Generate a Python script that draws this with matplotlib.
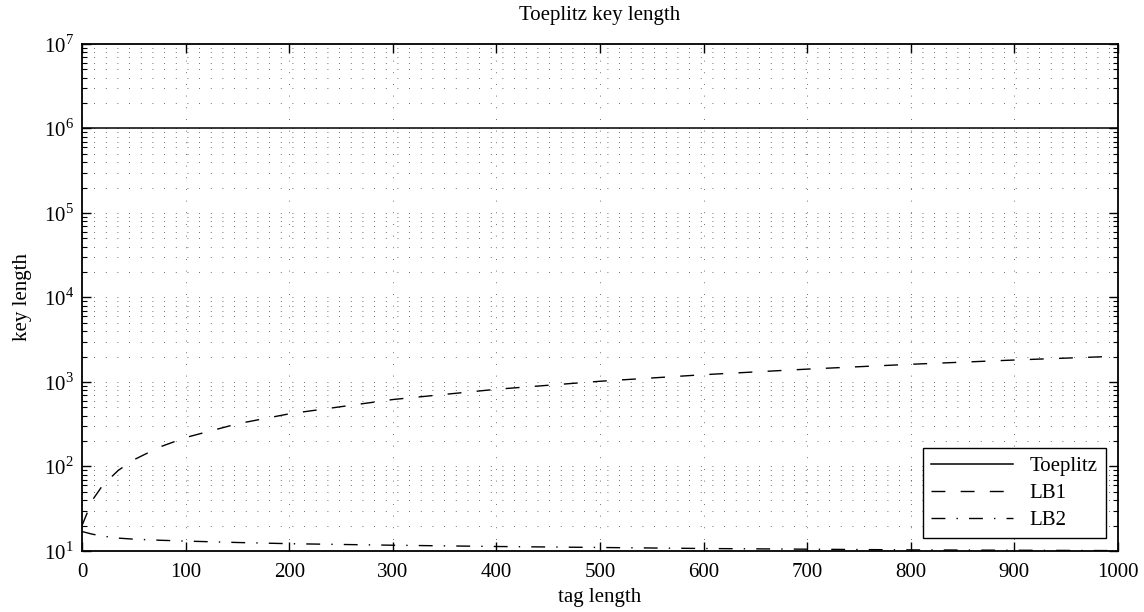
import matplotlib.pyplot as plt
from matplotlib.ticker import FixedLocator, NullFormatter

plt.rcParams['font.family'] = ['Liberation Serif', 'DejaVu Serif']
plt.rcParams['mathtext.fontset'] = 'custom'
plt.rcParams['mathtext.rm'] = 'Liberation Serif'
plt.rcParams['font.size'] = 15

# values
tag_len = [0, 10, 20, 35, 50, 75, 100, 150, 200, 300, 400, 500, 600, 700, 800, 900, 1000]
toeplitz = [1e6] * len(tag_len)
lb1 = [20, 40, 60, 90, 120, 170, 220, 320, 420, 620, 820, 1020, 1220, 1420, 1620, 1820, 2020]
lb2 = [17.0, 15.8, 15.0, 14.2, 13.8, 13.4, 13.1, 12.6, 12.2, 11.7, 11.3, 11.0, 10.7, 10.5, 10.3, 10.2, 10.1]
y_major = [1e1, 1e2, 1e3, 1e4, 1e5, 1e6, 1e7]
y_labels = ['$10^{%d}$' % k for k in range(1, 8)]

fig = plt.figure(figsize=(11.44, 6.12), dpi=100)
ax = fig.add_axes([0.0717, 0.0997, 0.9056, 0.8284])

ax.plot(tag_len, toeplitz, 'k-', lw=1.1, label='Toeplitz')
ax.plot(tag_len, lb1, 'k', lw=1.0, dashes=(10, 11), label='LB1')
ax.plot(tag_len, lb2, 'k', lw=1.0, dashes=(10, 8, 1, 8), label='LB2')

ax.set_yscale('log')
ax.set_xlim(0, 1000)
ax.set_ylim(10, 1e7)
ax.set_xticks(range(0, 1001, 100))
ax.set_yticks(y_major, y_labels)
minors = [m * d for d in y_major[:-1] for m in range(2, 10)]
ax.yaxis.set_minor_locator(FixedLocator(minors))
ax.yaxis.set_minor_formatter(NullFormatter())

#matlab style grid: x majors, y majors and minors
ax.grid(True, axis='x', which='major', color='0.25', ls=(0, (1, 13)), lw=0.6)
ax.grid(True, axis='y', which='both', color='0.25', ls=(0, (1, 13)), lw=0.6)

ax.tick_params(which='both', direction='in', top=True, right=True, labelsize=15)
ax.tick_params(which='major', length=6.5, width=1)
ax.tick_params(which='minor', length=3.5, width=0.8)
ax.tick_params(axis='x', pad=9)
ax.tick_params(axis='y', pad=6)
for s in ax.spines.values():
    s.set_linewidth(1.3)

ax.set_title('Toeplitz key length', fontsize=15, pad=17)
ax.set_xlabel('tag length', fontsize=15, labelpad=4)
ax.set_ylabel('key length', fontsize=15, labelpad=8)

leg = ax.legend(loc='lower right', handlelength=3.9, fancybox=False, framealpha=1,
                edgecolor='k', borderaxespad=0.6, fontsize=15, labelspacing=0.35)
leg.get_frame().set_linewidth(1.0)

fig.savefig('out.png', dpi=100)
